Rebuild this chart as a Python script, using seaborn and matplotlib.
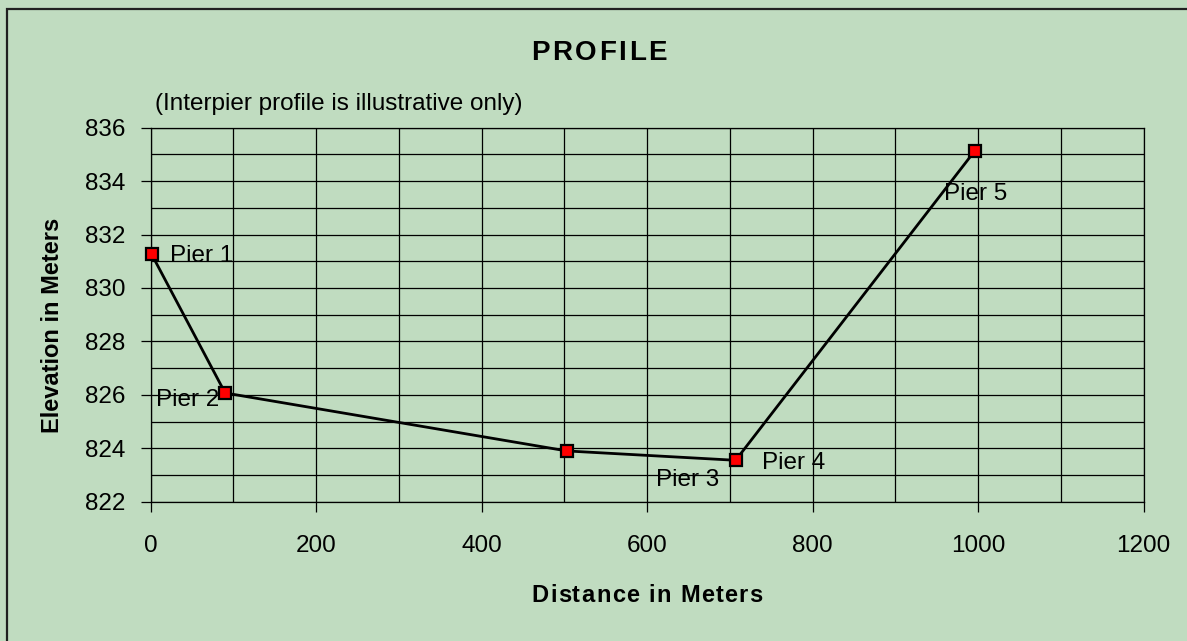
import pandas as pd
import seaborn as sns
import matplotlib.pyplot as plt
from matplotlib.ticker import MultipleLocator
from matplotlib.patches import Rectangle

# data
distance = [1, 90, 503, 707, 996]
elevation = [831.27, 826.07, 823.90, 823.55, 835.13]
piers = ["Pier 1", "Pier 2", "Pier 3", "Pier 4", "Pier 5"]

bg = "#C0DCC0"
W, H = 1187, 641

sns.set_style("ticks", {"axes.facecolor": bg, "figure.facecolor": bg,
                        "axes.edgecolor": "black", "text.color": "black",
                        "axes.labelcolor": "black", "xtick.color": "black",
                        "ytick.color": "black"})
plt.rcParams["font.family"] = ["Liberation Sans", "DejaVu Sans"]

fig = plt.figure(figsize=(W / 100, H / 100), dpi=100)
ax = fig.add_axes([150.7 / W, 1 - 501.7 / H, (1143.5 - 150.7) / W, (501.7 - 127.7) / H])

df = pd.DataFrame({"distance": distance, "elevation": elevation})
sns.lineplot(data=df, x="distance", y="elevation", ax=ax, color="black", lw=2,
             marker="s", markersize=8.5, markerfacecolor="red",
             markeredgecolor="black", markeredgewidth=1.6, zorder=3,
             clip_on=False)

ax.set_xlim(0, 1200)
ax.set_ylim(822, 836)
ax.xaxis.set_major_locator(MultipleLocator(200))
ax.xaxis.set_minor_locator(MultipleLocator(100))
ax.yaxis.set_major_locator(MultipleLocator(2))
ax.yaxis.set_minor_locator(MultipleLocator(1))
ax.grid(which="both", color="black", lw=0.9)
ax.tick_params(which="major", direction="out", length=7, width=0.9,
               labelsize=17.5, colors="black")
ax.tick_params(axis="x", pad=17)
ax.tick_params(axis="y", pad=11)
ax.tick_params(which="minor", length=0)
for s in ax.spines.values():
    s.set_linewidth(0.9)
ax.set_xlabel("")
ax.set_ylabel("")

# pier labels (offsets in pixels from each point)
offsets = {
    "Pier 1": (18, -2, "left"),
    "Pier 2": (-6, -7, "right"),
    "Pier 3": (89, -29, "left"),
    "Pier 4": (26, -3, "left"),
    "Pier 5": (1, -43, "center"),
}
for x, y, name in zip(distance, elevation, piers):
    dx, dy, ha = offsets[name]
    ax.annotate(name, (x, y), xytext=(dx, dy), textcoords="offset pixels",
                ha=ha, va="center", fontsize=17.5, zorder=4)


def spaced_text(s, xc, yc, gap, **kw):
    # horizontal text with extra letter spacing, centred at pixel (xc, yc)
    r = fig.canvas.get_renderer()

    def width(txt):
        t = fig.text(0, 0, txt, **kw)
        w = t.get_window_extent(r).width
        t.remove()
        return w

    wx = width("x")
    starts = [width(s[:i] + "x") - wx if i else 0 for i in range(len(s))]
    total = width(s) + gap * (len(s) - 1)
    x0 = xc - total / 2
    for i, ch in enumerate(s):
        fig.text((x0 + starts[i] + gap * i) / W, 1 - yc / H, ch,
                 ha="left", va="center", **kw)


spaced_text("PROFILE", 599, 53, 2.5, fontsize=20, fontweight="bold")
spaced_text("Distance in Meters", 647, 595, 1.3, fontsize=17, fontweight="bold")
fig.text(155 / W, 1 - 104 / H, "(Interpier profile is illustrative only)",
         ha="left", va="center", fontsize=17.5)
fig.text(53 / W, 1 - 325 / H, "Elevation in Meters", ha="center", va="center",
         rotation=90, fontsize=17, fontweight="bold")

# chart border (right and bottom edges fall outside the image)
fig.add_artist(Rectangle((6.7 / W, -0.1), 1.2, 1.1 - 9.3 / H, fill=False,
                         lw=1.6, edgecolor="#202020", transform=fig.transFigure,
                         clip_on=False))

fig.savefig("out.png", dpi=100, facecolor=bg)
